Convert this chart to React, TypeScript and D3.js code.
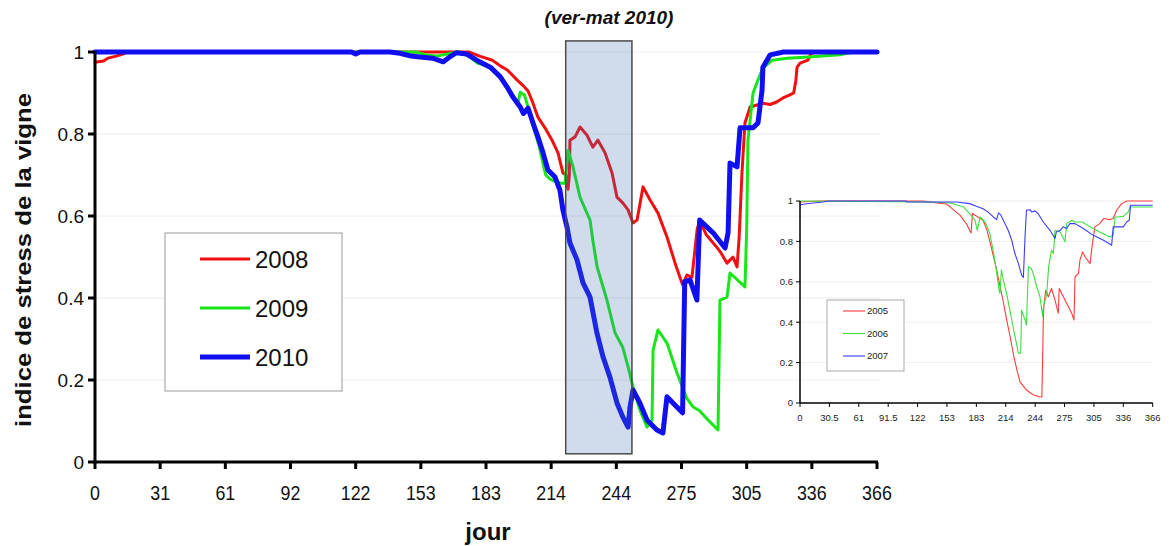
import React from "react";
import * as d3 from "d3";

type Pt = [number, number];

// ---------- main chart data (day, stress index) ----------
const years = ["2008", "2009", "2010"];
const colors = ["#f01010", "#19e619", "#0f0ff0"];
const widths = [3, 3, 5];

const serie2008: Pt[] = [
  [0, 0.975], [4, 0.978], [6, 0.985], [10, 0.99], [13, 0.995], [15, 1], [175, 1], [180, 0.99],
  [186, 0.98], [190, 0.965], [193, 0.956], [197.5, 0.932], [200, 0.92], [202.7, 0.905], [205, 0.875],
  [207.3, 0.841], [210.6, 0.815], [213.9, 0.785], [216.7, 0.754], [219, 0.705], [220.5, 0.7],
  [221.4, 0.665], [222, 0.7], [222.3, 0.785], [224.7, 0.793], [227, 0.817], [230.3, 0.797],
  [233, 0.768], [235.4, 0.785], [238.7, 0.754], [242, 0.705], [244.3, 0.646], [247, 0.632],
  [249.5, 0.615], [251.8, 0.583], [253.7, 0.59], [256.5, 0.671], [259.8, 0.639], [263.5, 0.607],
  [267.7, 0.549], [271.5, 0.485], [275, 0.432], [277, 0.456], [279.4, 0.451], [281.8, 0.566],
  [283, 0.59], [286, 0.555], [291, 0.524], [293, 0.51], [295.8, 0.485], [298.6, 0.5], [300.5, 0.476],
  [301.5, 0.55], [302.8, 0.705], [304.2, 0.827], [306.6, 0.866], [312.6, 0.875], [316, 0.872],
  [319, 0.878], [322, 0.888], [325, 0.895], [327, 0.9], [328, 0.93], [328.6, 0.963], [330, 0.973],
  [333.7, 0.98], [335, 0.995], [337, 1], [366, 1],
];

const serie2009: Pt[] = [
  [0, 1], [150, 1], [155, 0.993], [160, 0.99], [165, 0.995], [170, 1], [175, 0.99], [179, 0.973],
  [185, 0.963], [190, 0.94], [193, 0.915], [196, 0.89], [198, 0.875], [199, 0.902], [201, 0.895],
  [203, 0.86], [205, 0.82], [208, 0.768], [210, 0.72], [211, 0.7], [213, 0.69], [215, 0.685],
  [218, 0.68], [220, 0.68], [221.4, 0.76], [223.7, 0.72], [227, 0.646], [229, 0.622], [231.7, 0.59],
  [233, 0.541], [235, 0.476], [239.6, 0.395], [243.4, 0.315], [247, 0.28], [249.5, 0.232],
  [251.8, 0.183], [255, 0.127], [258.4, 0.085], [260.7, 0.102], [261.2, 0.273], [263.5, 0.322],
  [267.7, 0.29], [272.4, 0.217], [277, 0.155], [280, 0.134], [283, 0.125], [287, 0.102],
  [291.6, 0.078], [292.5, 0.395], [295.8, 0.402], [297.2, 0.461], [304.2, 0.427], [305, 0.566],
  [305.6, 0.785], [308, 0.9], [310.3, 0.932], [312.6, 0.961], [317, 0.98], [324, 0.985],
  [334, 0.988], [348.7, 0.993], [355, 1], [366, 1],
];

const serie2010: Pt[] = [
  [0, 1], [120, 1], [122, 0.995], [124, 1], [138, 1], [142.7, 0.997], [148, 0.99], [152, 0.988],
  [158, 0.985], [163, 0.976], [166, 0.988], [169, 0.998], [174, 0.995], [180, 0.976], [185, 0.963],
  [189.6, 0.94], [192.8, 0.915], [195.6, 0.89], [199, 0.866], [200.5, 0.85], [202.7, 0.863],
  [205, 0.827], [207.3, 0.793], [209.7, 0.754], [212, 0.712], [215.3, 0.695], [217.6, 0.663],
  [219, 0.615], [220.9, 0.573], [222.3, 0.534], [225.6, 0.493], [228.4, 0.437], [231.7, 0.402],
  [234.9, 0.315], [237.8, 0.256], [241, 0.207], [244.3, 0.144], [247, 0.11], [249.5, 0.085],
  [250.4, 0.134], [251.8, 0.176], [255, 0.144], [258.4, 0.102], [263, 0.078], [265.8, 0.071],
  [267.7, 0.159], [270.5, 0.144], [275, 0.12], [276, 0.44], [278.5, 0.444], [281.7, 0.395],
  [283, 0.59], [289.3, 0.559], [294.9, 0.522], [296.3, 0.559], [297.2, 0.729], [300.5, 0.72],
  [301.9, 0.815], [308, 0.815], [310.3, 0.827], [312.2, 0.907], [312.6, 0.963], [316, 0.993],
  [320.6, 0.998], [322, 1], [366, 1],
];

// ---------- inset chart data ----------
const insetYears = ["2005", "2006", "2007"];
const insetColors = ["#ff3b3b", "#3be03b", "#3b3bff"];

const serie2005: Pt[] = [
  [0, 0.995], [20, 1], [128, 1], [142, 0.99], [152, 0.985], [156, 0.97], [166, 0.93], [173, 0.885],
  [176.5, 0.85], [177.5, 0.842], [179, 0.938], [185, 0.92], [190, 0.905], [194, 0.856], [199, 0.76],
  [204, 0.66], [207.5, 0.58], [211, 0.5], [214.5, 0.41], [218, 0.33], [221.5, 0.24], [225, 0.165],
  [228.3, 0.105], [235, 0.064], [242, 0.041], [249, 0.03], [251, 0.03], [252.5, 0.411], [253, 0.477],
  [255, 0.559], [257.7, 0.526], [261, 0.567], [264.6, 0.51], [268, 0.444], [269, 0.567], [275, 0.51],
  [282, 0.444], [284.3, 0.411], [285.4, 0.625], [289, 0.641], [290.5, 0.707], [293.3, 0.748],
  [295.7, 0.724], [301, 0.69], [303, 0.773], [306, 0.872], [311, 0.888], [315, 0.913],
  [321.7, 0.908], [325, 0.913], [328.6, 0.954], [333.8, 0.987], [339, 1], [366, 1],
];

const serie2006: Pt[] = [
  [0, 1], [135, 0.995], [156, 0.99], [170, 0.97], [176, 0.938], [181.6, 0.905], [184, 0.855],
  [187, 0.921], [192, 0.896], [197, 0.839], [200.6, 0.75], [204, 0.65], [206.5, 0.56], [207.5, 0.543],
  [209, 0.658], [211, 0.608], [214.5, 0.54], [217, 0.477], [221.4, 0.37], [224.8, 0.29],
  [226.5, 0.247], [229, 0.247], [230, 0.46], [233.5, 0.411], [235, 0.386], [237, 0.674], [240, 0.666],
  [242, 0.641], [245.6, 0.576], [249, 0.526], [251.8, 0.428], [252.5, 0.477], [256, 0.535],
  [258, 0.674], [261, 0.757], [263, 0.74], [264.6, 0.855], [270, 0.847], [275, 0.798],
  [276.7, 0.888], [282, 0.905], [285.4, 0.896], [293, 0.896], [301, 0.872], [311, 0.847],
  [321.7, 0.822], [325, 0.83], [327, 0.921], [330, 0.921], [335.5, 0.924], [340.7, 0.946],
  [342.4, 0.97], [366, 0.97],
];

const serie2007: Pt[] = [
  [0, 0.98], [3, 0.984], [14, 0.99], [24, 0.995], [29, 1], [110, 1], [111, 0.995], [150, 0.995],
  [162.6, 0.995], [176, 0.987], [183, 0.974], [190, 0.962], [195, 0.946], [200.6, 0.921],
  [204, 0.908], [206, 0.941], [208.5, 0.93], [212.7, 0.888], [216, 0.855], [219.7, 0.806],
  [223, 0.74], [226.6, 0.691], [230, 0.633], [231.8, 0.622], [233.5, 0.822], [235, 0.954],
  [238.7, 0.957], [240.4, 0.946], [243.9, 0.951], [247, 0.938], [252.5, 0.896], [259.4, 0.855],
  [264.6, 0.814], [266, 0.847], [270, 0.855], [273, 0.872], [276.7, 0.864], [280, 0.888],
  [285.4, 0.888], [294, 0.864], [304.4, 0.83], [315, 0.806], [321.7, 0.786], [323.4, 0.781],
  [325, 0.872], [335.5, 0.872], [339, 0.896], [341.7, 0.905], [343, 0.979], [366, 0.979],
];

// ---------- axes ----------
const xTickValues = [0, 30.5, 61, 91.5, 122, 152.5, 183, 213.5, 244, 274.5, 305, 335.5, 366];
const xTickLabels = ["0", "31", "61", "92", "122", "153", "183", "214", "244", "275", "305", "336", "366"];
const insetXTickLabels = ["0", "30.5", "61", "91.5", "122", "153", "183", "214", "244", "275", "305", "336", "366"];
const yTickValues = [0, 0.2, 0.4, 0.6, 0.8, 1];
const yTickLabels = ["0", "0.2", "0.4", "0.6", "0.8", "1"];
const shadedPeriod = [220.3, 251.3];
const shadedRange = [0.02, 1.027];

const title = "(ver-mat 2010)";
const yTitle = "indice de stress de la vigne";
const xTitle = "jour";

export default function App() {
  const font = "Arial, 'Liberation Sans', sans-serif";
  const x = d3.scaleLinear().domain([0, 366]).range([95, 877]);
  const y = d3.scaleLinear().domain([0, 1]).range([462, 52]);
  const ix = d3.scaleLinear().domain([0, 366]).range([800, 1152.7]);
  const iy = d3.scaleLinear().domain([0, 1]).range([403, 201]);

  const line = d3.line<Pt>().x((d) => x(d[0])).y((d) => y(d[1]));
  const iline = d3.line<Pt>().x((d) => ix(d[0])).y((d) => iy(d[1]));

  const mainSeries = [serie2008, serie2009, serie2010];
  const insetSeries = [serie2005, serie2006, serie2007];

  return (
    <svg width={1169} height={546} style={{ position: "absolute", left: 0, top: 0, background: "#fff" }} fontFamily={font}>
      {/* main grid */}
      {yTickValues.slice(1).map((v) => (
        <line key={"g" + v} x1={x(0)} x2={x(366) + 3} y1={y(v)} y2={y(v)} stroke="#ececec" strokeWidth={1} />
      ))}

      {/* main series */}
      {mainSeries.map((s, i) => (
        <path key={years[i]} d={line(s) || ""} fill="none" stroke={colors[i]} strokeWidth={widths[i]} strokeLinejoin="round" strokeLinecap="round" />
      ))}

      {/* shaded period (overlay) */}
      <rect
        x={x(shadedPeriod[0])}
        y={y(shadedRange[1])}
        width={x(shadedPeriod[1]) - x(shadedPeriod[0])}
        height={y(shadedRange[0]) - y(shadedRange[1])}
        fill="rgb(67,115,179)"
        fillOpacity={0.25}
        stroke="#4a4a4a"
        strokeWidth={1.5}
      />

      {/* main axes */}
      <line x1={x(0)} x2={x(0)} y1={y(1) - 1} y2={y(0) + 1.5} stroke="#000" strokeWidth={3} />
      <line x1={x(0) - 1.5} x2={x(366) + 1} y1={y(0)} y2={y(0)} stroke="#000" strokeWidth={3} />
      {yTickValues.map((v, i) => (
        <g key={"yt" + v}>
          <line x1={x(0) - 7} x2={x(0)} y1={y(v)} y2={y(v)} stroke="#000" strokeWidth={3} />
          <text x={x(0) - 11} y={y(v)} dy="0.35em" textAnchor="end" fontSize={19} fill="#111">
            {yTickLabels[i]}
          </text>
        </g>
      ))}
      {xTickValues.map((v, i) => (
        <g key={"xt" + v}>
          <line x1={x(v)} x2={x(v)} y1={y(0)} y2={y(0) + 7} stroke="#000" strokeWidth={3} />
          <text x={x(v)} y={500} textAnchor="middle" fontSize={21} fill="#111" transform={`translate(${x(v)},500) scale(0.85,1) translate(${-x(v)},-500)`}>
            {xTickLabels[i]}
          </text>
        </g>
      ))}

      {/* titles */}
      <text x={609} y={24} textAnchor="middle" fontSize={19} fontWeight="bold" fontStyle="italic" fill="#111">
        {title}
      </text>
      <text x={488} y={540} textAnchor="middle" fontSize={24} fontWeight="bold" fill="#111">
        {xTitle}
      </text>
      <text
        transform={`translate(31,260) rotate(-90)`}
        textAnchor="middle"
        fontSize={22}
        fontWeight="bold"
        fill="#111"
        textLength={334}
        lengthAdjust="spacingAndGlyphs"
      >
        {yTitle}
      </text>

      {/* main legend */}
      <rect x={165} y={233} width={177} height={158} fill="#fff" stroke="#9a9a9a" strokeWidth={1} />
      {years.map((yr, i) => (
        <g key={"lg" + yr}>
          <line x1={200} x2={250} y1={259 + i * 49} y2={259 + i * 49} stroke={colors[i]} strokeWidth={widths[i]} />
          <text x={255} y={259 + i * 49} dy="0.36em" fontSize={24} fill="#111">
            {yr}
          </text>
        </g>
      ))}

      {/* inset grid */}
      {yTickValues.slice(1).map((v) => (
        <line key={"ig" + v} x1={ix(0)} x2={ix(366)} y1={iy(v)} y2={iy(v)} stroke="#efefef" strokeWidth={1} />
      ))}
      {insetSeries.map((s, i) => (
        <path key={insetYears[i]} d={iline(s) || ""} fill="none" stroke={insetColors[i]} strokeWidth={1.1} strokeLinejoin="round" />
      ))}
      {/* inset axes */}
      <line x1={ix(0)} x2={ix(0)} y1={iy(1)} y2={iy(0)} stroke="#000" strokeWidth={1.5} />
      <line x1={ix(0)} x2={ix(366)} y1={iy(0)} y2={iy(0)} stroke="#000" strokeWidth={1.5} />
      {yTickValues.map((v, i) => (
        <g key={"iyt" + v}>
          <line x1={ix(0) - 4} x2={ix(0)} y1={iy(v)} y2={iy(v)} stroke="#000" strokeWidth={1} />
          <text x={ix(0) - 7} y={iy(v)} dy="0.35em" textAnchor="end" fontSize={9.5} fill="#222">
            {yTickLabels[i]}
          </text>
        </g>
      ))}
      {xTickValues.map((v, i) => (
        <g key={"ixt" + v}>
          <line x1={ix(v)} x2={ix(v)} y1={iy(0)} y2={iy(0) + 4} stroke="#000" strokeWidth={1} />
          <text x={ix(v)} y={421} textAnchor="middle" fontSize={9.5} fill="#222">
            {insetXTickLabels[i]}
          </text>
        </g>
      ))}
      {/* inset legend */}
      <rect x={827} y={300} width={77} height={71} fill="#fff" stroke="#aaa" strokeWidth={1} />
      {insetYears.map((yr, i) => (
        <g key={"ilg" + yr}>
          <line x1={843} x2={865} y1={311 + i * 22.5} y2={311 + i * 22.5} stroke={insetColors[i]} strokeWidth={1.1} />
          <text x={867} y={311 + i * 22.5} dy="0.35em" fontSize={9.5} fill="#222">
            {yr}
          </text>
        </g>
      ))}
    </svg>
  );
}
